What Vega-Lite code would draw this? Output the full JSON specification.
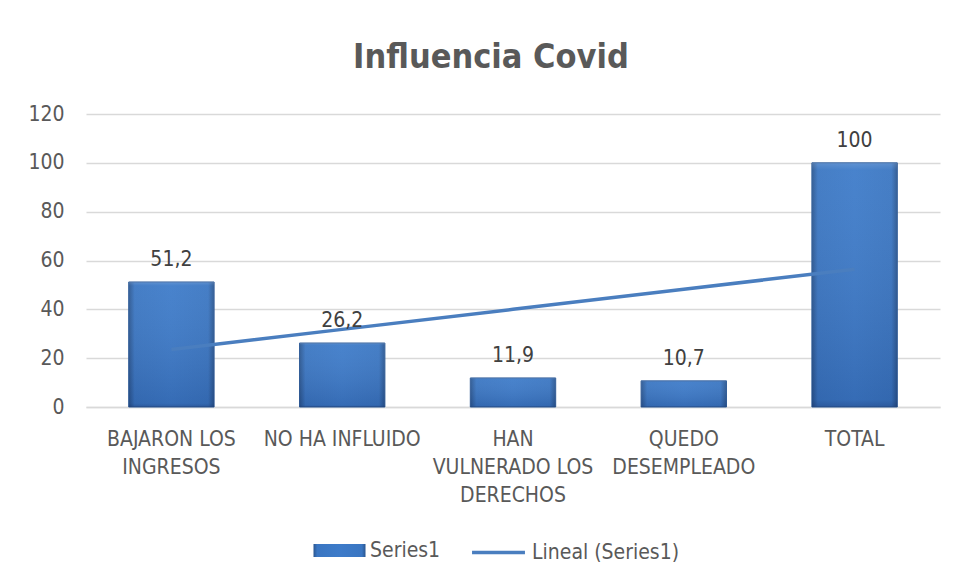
{
  "$schema": "https://vega.github.io/schema/vega-lite/v6.json",
  "width": 854,
  "height": 293,
  "autosize": {"type": "none"},
  "padding": {"left": 86, "top": 114, "right": 22, "bottom": 177},
  "background": "white",
  "config": {
    "font": "DejaVu Sans Condensed, Liberation Sans, sans-serif",
    "view": {"stroke": null},
    "locale": {"number": {"decimal": ",", "thousands": ".", "grouping": [3], "currency": ["", " €"]}}
  },
  "title": {
    "text": "Influencia Covid",
    "font": "DejaVu Sans Condensed, Liberation Sans, sans-serif",
    "fontSize": 34,
    "fontWeight": "bold",
    "color": "#595959",
    "anchor": "middle",
    "dx": -22,
    "offset": 28
  },
  "data": {
    "values": [
      {"categoria": "BAJARON LOS INGRESOS", "valor": 51.2, "tendencia": 23.58},
      {"categoria": "NO HA INFLUIDO", "valor": 26.2, "tendencia": 31.79},
      {"categoria": "HAN VULNERADO LOS DERECHOS", "valor": 11.9, "tendencia": 40.0},
      {"categoria": "QUEDO DESEMPLEADO", "valor": 10.7, "tendencia": 48.21},
      {"categoria": "TOTAL", "valor": 100, "tendencia": 56.42}
    ]
  },
  "encoding": {
    "x": {
      "field": "categoria",
      "type": "nominal",
      "sort": null,
      "scale": {"paddingInner": 0.5, "paddingOuter": 0.25},
      "axis": {
        "title": null,
        "labelAngle": 0,
        "labelFontSize": 21,
        "labelColor": "#595959",
        "labelLineHeight": 28,
        "labelPadding": 21,
        "labelBaseline": "top",
        "labelLimit": 300,
        "ticks": false,
        "domainColor": "#d9d9d9",
        "domainWidth": 1.3,
        "labelExpr": "datum.value == 'BAJARON LOS INGRESOS' ? ['BAJARON LOS', 'INGRESOS'] : datum.value == 'HAN VULNERADO LOS DERECHOS' ? ['HAN', 'VULNERADO LOS', 'DERECHOS'] : datum.value == 'QUEDO DESEMPLEADO' ? ['QUEDO', 'DESEMPLEADO'] : datum.value"
      }
    }
  },
  "layer": [
    {
      "mark": {
        "type": "bar",
        "fill": {
          "gradient": "linear", "x1": 0, "y1": 0, "x2": 1, "y2": 0,
          "stops": [
            {"offset": 0, "color": "#2a5690"},
            {"offset": 0.07, "color": "#3a76c2"},
            {"offset": 0.5, "color": "#3d7bc9"},
            {"offset": 0.93, "color": "#3a76c2"},
            {"offset": 1, "color": "#2a5690"}
          ]
        },
        "stroke": "#2f5c98",
        "strokeWidth": 1
      },
      "encoding": {
        "y": {
          "field": "valor",
          "type": "quantitative",
          "scale": {"domain": [0, 120]},
          "axis": {
            "title": null,
            "values": [0, 20, 40, 60, 80, 100, 120],
            "labelFontSize": 21,
            "labelColor": "#595959",
            "labelPadding": 22,
            "ticks": false,
            "domain": false,
            "gridColor": "#d9d9d9",
            "gridWidth": 1.3
          }
        },
        "opacity": {
          "datum": "Series1",
          "type": "nominal",
          "scale": {"range": [1]},
          "legend": {
            "title": null,
            "orient": "none",
            "legendX": 227,
            "legendY": 410,
            "symbolType": "M-1,-0.25L1,-0.25L1,0.25L-1,0.25Z",
            "symbolSize": 2704,
            "symbolFillColor": "#3a74bf",
            "symbolStrokeColor": "#2f5c98",
            "symbolStrokeWidth": 1,
            "labelFontSize": 21,
            "labelColor": "#595959",
            "labelOffset": 4
          }
        }
      }
    },
    {
      "mark": {
        "type": "bar",
        "fill": {
          "gradient": "linear", "x1": 0, "y1": 0, "x2": 0, "y2": 1,
          "stops": [
            {"offset": 0, "color": "rgba(255,255,255,0.18)"},
            {"offset": 0.03, "color": "rgba(255,255,255,0.06)"},
            {"offset": 0.97, "color": "rgba(0,0,40,0.12)"},
            {"offset": 1, "color": "rgba(0,0,40,0.25)"}
          ]
        }
      },
      "encoding": {
        "y": {"field": "valor", "type": "quantitative"}
      }
    },
    {
      "mark": {"type": "line", "strokeWidth": 3.5, "strokeCap": "butt"},
      "encoding": {
        "y": {"field": "tendencia", "type": "quantitative"},
        "stroke": {
          "datum": "Lineal (Series1)",
          "type": "nominal",
          "scale": {"range": ["#4a7ebf"]},
          "legend": {
            "title": null,
            "orient": "none",
            "legendX": 384,
            "legendY": 410,
            "symbolType": "stroke",
            "symbolSize": 2800,
            "symbolStrokeWidth": 3.5,
            "labelFontSize": 21,
            "labelColor": "#595959",
            "labelOffset": 5
          }
        }
      }
    },
    {
      "mark": {"type": "text", "fontSize": 21, "color": "#404040", "baseline": "alphabetic", "dy": -16},
      "encoding": {
        "y": {"field": "valor", "type": "quantitative"},
        "text": {"field": "valor", "type": "quantitative", "format": "~g"}
      }
    }
  ]
}
